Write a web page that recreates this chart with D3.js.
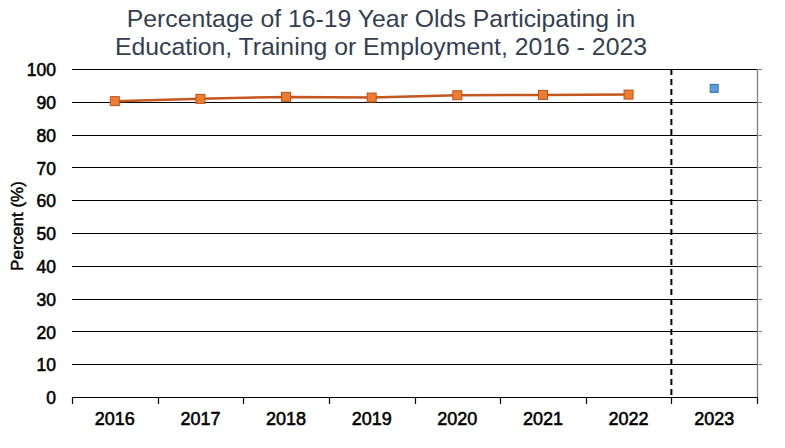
<!DOCTYPE html>
<html><head><meta charset="utf-8">
<script src="https://cdn.jsdelivr.net/npm/d3@7/dist/d3.min.js"></script>
<style>body{margin:0;background:#fff}svg{display:block}</style>
</head><body><svg id="c" width="785" height="448"></svg>
<script>
const years = ["2016","2017","2018","2019","2020","2021","2022","2023"];
const actualYears = ["2016","2017","2018","2019","2020","2021","2022"];
const actualValues = [90.2, 90.9, 91.5, 91.3, 92.0, 92.1, 92.2];
const projectedYears = ["2023"];
const projectedValues = [94.1];
const yTicks = [0,10,20,30,40,50,60,70,80,90,100];
const titleLines = ["Percentage of 16-19 Year Olds Participating in","Education, Training or Employment, 2016 - 2023"];

const svg = d3.select("#c");
const L = 72, R = 757, T = 69, B = 397;
const x = d3.scaleBand().domain(years).range([L, R]);
const y = d3.scaleLinear().domain([0,100]).range([B, T]);
const font = "'Liberation Sans', Arial, sans-serif";
const py = v => Math.round(y(v)) + 0.5;

// title
svg.append("g").selectAll("text").data(titleLines).join("text")
  .attr("x", 381).attr("y", (d,i)=>27 + i*28)
  .attr("text-anchor","middle").attr("font-family",font).attr("font-size",24.8)
  .attr("fill","#333f50").text(d=>d);

// gridlines
svg.append("g").selectAll("line").data(yTicks).join("line")
  .attr("x1", L).attr("x2", R).attr("y1", py).attr("y2", py)
  .attr("stroke","#000").attr("stroke-width",1);

// right border (gray) with stubs
svg.append("line").attr("x1",R+0.5).attr("x2",R+0.5).attr("y1",T).attr("y2",B)
  .attr("stroke","#808080").attr("stroke-width",1.3);
svg.append("g").selectAll("line").data(yTicks.filter(d=>d>0)).join("line")
  .attr("x1",R).attr("x2",R+5).attr("y1",py).attr("y2",py)
  .attr("stroke","#808080").attr("stroke-width",1);

// y axis labels
const ya = d3.axisLeft(y).tickValues(yTicks).tickSize(0).tickPadding(16);
const gy = svg.append("g").attr("transform",`translate(${L},1)`).call(ya);
gy.select(".domain").remove();
gy.selectAll("text").attr("font-family",font).attr("font-size",17.5)
  .attr("fill","#000").attr("stroke","#000").attr("stroke-width",0.55);

// x axis
const xa = d3.axisBottom(x).tickSize(0).tickPadding(15);
const gx = svg.append("g").attr("transform",`translate(0,${B})`).call(xa);
gx.select(".domain").remove();
gx.selectAll("text").attr("font-family",font).attr("font-size",18)
  .attr("fill","#000").attr("stroke","#000").attr("stroke-width",0.55);
const bounds = years.map(d=>x(d)).concat([R]);
svg.append("g").selectAll("line").data(bounds).join("line")
  .attr("x1",d=>Math.round(d)+0.5).attr("x2",d=>Math.round(d)+0.5).attr("y1",B).attr("y2",B+7)
  .attr("stroke","#000").attr("stroke-width",1.2);

// dashed divider between 2022 and 2023
svg.append("line").attr("x1",x("2023")).attr("x2",x("2023")).attr("y1",T).attr("y2",B)
  .attr("stroke","#000").attr("stroke-width",2).attr("stroke-dasharray","6,4");

// actual line
const cx = d=>x(d)+x.bandwidth()/2;
const pts = actualYears.map((d,i)=>[cx(d), y(actualValues[i])]);
svg.append("path").attr("d", d3.line()(pts)).attr("fill","none")
  .attr("stroke","#c4561f").attr("stroke-width",2.5);
svg.append("g").selectAll("rect").data(pts).join("rect")
  .attr("x",d=>d[0]-4.5).attr("y",d=>d[1]-4.5).attr("width",9).attr("height",9)
  .attr("fill","#ed7d31").attr("stroke","#c0501a").attr("stroke-width",1);

// projected
svg.append("g").selectAll("rect").data(projectedYears).join("rect")
  .attr("x",(d)=>cx(d)-4).attr("y",(d,i)=>y(projectedValues[i])-4).attr("width",8).attr("height",8)
  .attr("fill","#5b9bd5").attr("stroke","#2e75b6").attr("stroke-width",1);

// y label
svg.append("text").attr("transform","translate(23,226) rotate(-90)")
  .attr("text-anchor","middle").attr("font-family",font).attr("font-size",17)
  .attr("fill","#000").attr("stroke","#000").attr("stroke-width",0.45).text("Percent (%)");
</script></body></html>
